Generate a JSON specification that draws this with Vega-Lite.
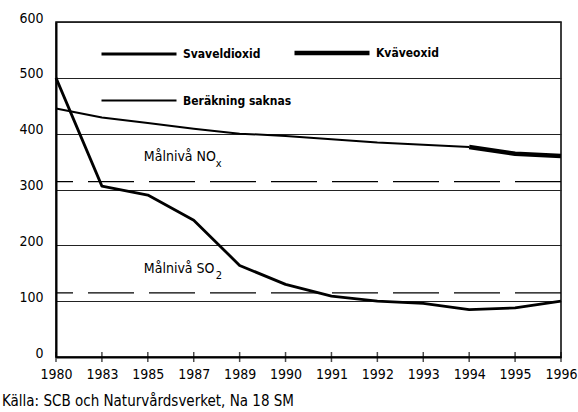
{
  "$schema": "https://vega.github.io/schema/vega-lite/v6.json",
  "autosize": {"type": "none"},
  "width": 505,
  "height": 335,
  "padding": {"left": 56, "top": 22, "right": 17, "bottom": 55},
  "background": "white",
  "title": {
    "text": "Källa: SCB och Naturvårdsverket, Na 18 SM",
    "orient": "bottom",
    "anchor": "start",
    "frame": "group",
    "dx": -54,
    "offset": 13,
    "font": "DejaVu Sans Condensed, sans-serif",
    "fontSize": 15,
    "fontWeight": "normal",
    "color": "black"
  },
  "config": {
    "view": {"stroke": "black", "strokeWidth": 1.5},
    "font": "DejaVu Sans Condensed, sans-serif",
    "axis": {
      "labelFont": "DejaVu Sans Condensed, sans-serif",
      "labelFontSize": 14,
      "labelColor": "black",
      "domainColor": "black",
      "domainWidth": 2,
      "ticks": false,
      "title": null
    },
    "legend": {
      "labelFont": "DejaVu Sans Condensed, sans-serif",
      "labelFontSize": 12,
      "labelFontWeight": "bold",
      "labelColor": "black"
    }
  },
  "datasets": {
    "lines": [
      {"year": "1980", "value": 500, "series": "Svaveldioxid"},
      {"year": "1983", "value": 306, "series": "Svaveldioxid"},
      {"year": "1985", "value": 290, "series": "Svaveldioxid"},
      {"year": "1987", "value": 245, "series": "Svaveldioxid"},
      {"year": "1989", "value": 164, "series": "Svaveldioxid"},
      {"year": "1990", "value": 130, "series": "Svaveldioxid"},
      {"year": "1991", "value": 109, "series": "Svaveldioxid"},
      {"year": "1992", "value": 100, "series": "Svaveldioxid"},
      {"year": "1993", "value": 96, "series": "Svaveldioxid"},
      {"year": "1994", "value": 85, "series": "Svaveldioxid"},
      {"year": "1995", "value": 88, "series": "Svaveldioxid"},
      {"year": "1996", "value": 100, "series": "Svaveldioxid"},
      {"year": "1980", "value": 445, "series": "Beräkning saknas"},
      {"year": "1983", "value": 429, "series": "Beräkning saknas"},
      {"year": "1985", "value": 419, "series": "Beräkning saknas"},
      {"year": "1987", "value": 409, "series": "Beräkning saknas"},
      {"year": "1989", "value": 400, "series": "Beräkning saknas"},
      {"year": "1990", "value": 396, "series": "Beräkning saknas"},
      {"year": "1991", "value": 390, "series": "Beräkning saknas"},
      {"year": "1992", "value": 384, "series": "Beräkning saknas"},
      {"year": "1993", "value": 380, "series": "Beräkning saknas"},
      {"year": "1994", "value": 376, "series": "Beräkning saknas"},
      {"year": "1994", "value": 376, "series": "Kväveoxid"},
      {"year": "1995", "value": 364, "series": "Kväveoxid"},
      {"year": "1996", "value": 360, "series": "Kväveoxid"}
    ],
    "targets": [
      {"target": "NOx", "value": 314},
      {"target": "SO2", "value": 115}
    ],
    "notes": [
      {"year": "1985", "value": 358, "text": "Målnivå NO", "sub": "x", "subValue": 345},
      {"year": "1985", "value": 157, "text": "Målnivå SO", "sub": "2", "subValue": 145}
    ]
  },
  "encoding": {
    "x": {
      "field": "year",
      "type": "ordinal",
      "scale": {"type": "point", "padding": 0, "domain": ["1980","1983","1985","1987","1989","1990","1991","1992","1993","1994","1995","1996"]},
      "axis": {"labelAngle": 0, "labelPadding": 10, "grid": false}
    }
  },
  "layer": [
    {
      "data": {"name": "targets"},
      "mark": {"type": "rule", "color": "black", "strokeWidth": 1.2, "strokeDash": [46, 15]},
      "encoding": {
        "x": null,
        "y": {"field": "value", "type": "quantitative"}
      }
    },
    {
      "data": {"name": "lines"},
      "mark": {"type": "line", "color": "black", "strokeJoin": "round"},
      "encoding": {
        "y": {
          "field": "value",
          "type": "quantitative",
          "scale": {"domain": [0, 600], "nice": false},
          "axis": {"values": [0, 100, 200, 300, 400, 500, 600], "grid": true, "gridColor": "#222", "gridWidth": 1, "labelPadding": 13, "labelOffset": -4}
        },
        "detail": {"field": "series"},
        "strokeWidth": {
          "field": "series",
          "type": "nominal",
          "scale": {"type": "ordinal", "domain": ["Svaveldioxid", "Beräkning saknas", "Kväveoxid"], "range": [2.8, 2, 4.5]},
          "legend": {
            "title": null,
            "orient": "none",
            "legendX": 43,
            "legendY": -9,
            "columns": 2,
            "columnPadding": -7,
            "rowPadding": -38,
            "symbolType": "stroke",
            "symbolSize": 5625,
            "symbolStrokeColor": "black",
            "labelOffset": 4
          }
        }
      }
    },
    {
      "data": {"name": "lines"},
      "transform": [{"filter": "datum.series === 'Svaveldioxid'"}],
      "mark": {"type": "tick", "orient": "vertical", "color": "black", "size": 10, "thickness": 1.5},
      "encoding": {
        "y": {"datum": 0, "type": "quantitative"}
      }
    },
    {
      "data": {"name": "notes"},
      "mark": {"type": "text", "align": "left", "baseline": "middle", "dx": -4, "fontSize": 14, "color": "black"},
      "encoding": {
        "y": {"field": "value", "type": "quantitative"},
        "text": {"field": "text"}
      }
    },
    {
      "data": {"name": "notes"},
      "mark": {"type": "text", "align": "left", "baseline": "middle", "dx": 68, "fontSize": 11, "color": "black"},
      "encoding": {
        "y": {"field": "subValue", "type": "quantitative"},
        "text": {"field": "sub"}
      }
    }
  ]
}
